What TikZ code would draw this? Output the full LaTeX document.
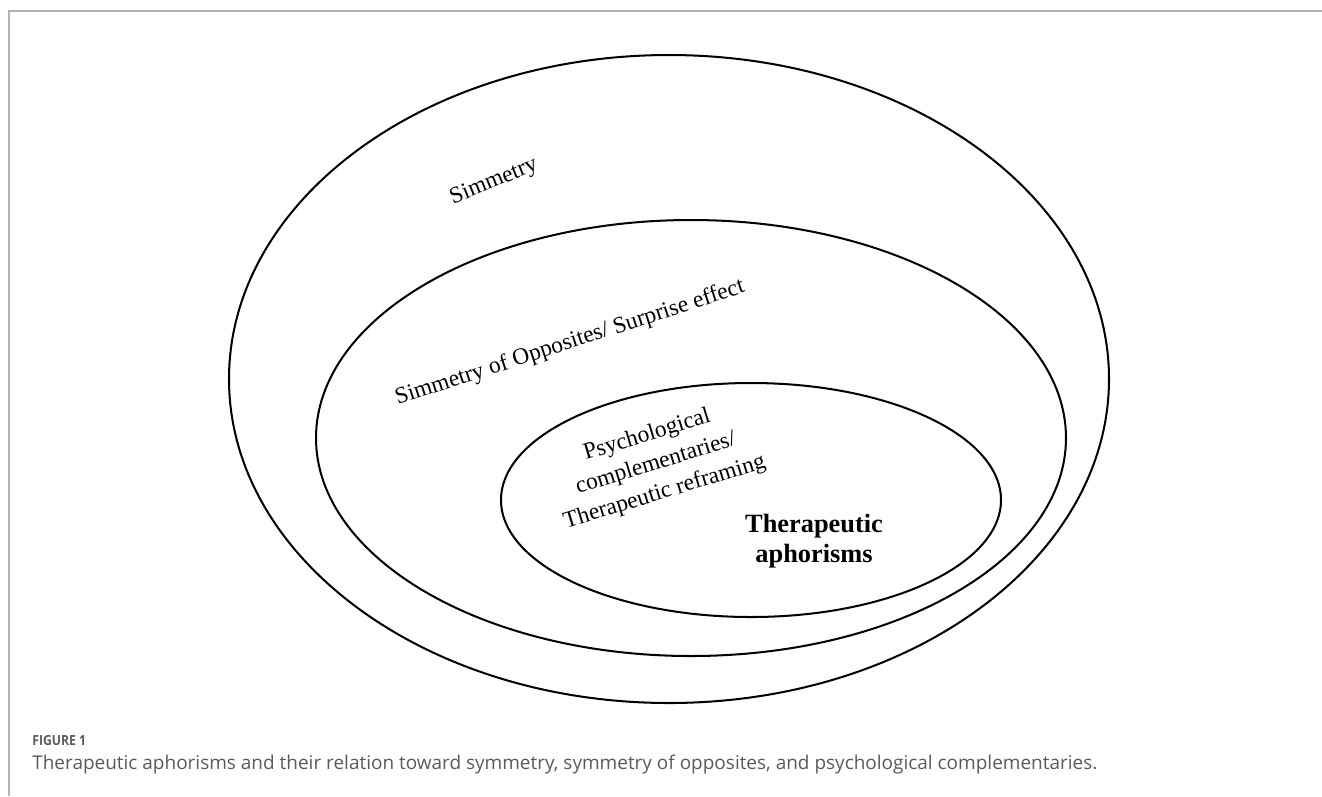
\documentclass[tikz,border=0pt]{standalone}
\usepackage{fontspec}
\setmainfont{Liberation Serif}
\newfontfamily\capfont{Open Sans}
\definecolor{framegray}{HTML}{B4B4B4}
\definecolor{capgray}{HTML}{5A5A5A}

\begin{document}
\begin{tikzpicture}[x=0.02cm,y=-0.02cm,every node/.style={inner sep=0pt},
  ring/.style={line width=1.15pt},
  tag/.style={font=\fontsize{13.3}{17}\selectfont,align=center}]

\useasboundingbox (0,0) rectangle (1322,796);
\draw[framegray,line width=0.9pt] (9,796) -- (9,11) -- (1322,11);

% nested sets
\draw[ring] (669,379) ellipse [x radius=440, y radius=324];
\draw[ring] (691,438) ellipse [x radius=375, y radius=218];
\draw[ring] (751,500) ellipse [x radius=250, y radius=117];

\node[tag,rotate=22](sym) at (494,182){Simmetry};
\node[tag,rotate=18](opp) at (570,343){Simmetry of Opposites/ Surprise effect};
\node[tag,rotate=17](comp) at (656,464){Psychological\\complementaries/\\Therapeutic reframing};
\node[tag,font=\fontsize{15}{17}\selectfont\bfseries](aph) at (814,541){Therapeutic\\aphorisms};

% caption
\node[anchor=base west,text=capgray,xscale=0.88,font=\capfont\bfseries\fontsize{7.9}{9}\selectfont](fig) at (32,745){FIGURE 1};
\node[anchor=base west,text=capgray,font=\capfont\fontsize{10.8}{12}\selectfont](cap) at (32,769)
  {Therapeutic aphorisms and their relation toward symmetry, symmetry of opposites, and psychological complementaries.};

\end{tikzpicture}
\end{document}
